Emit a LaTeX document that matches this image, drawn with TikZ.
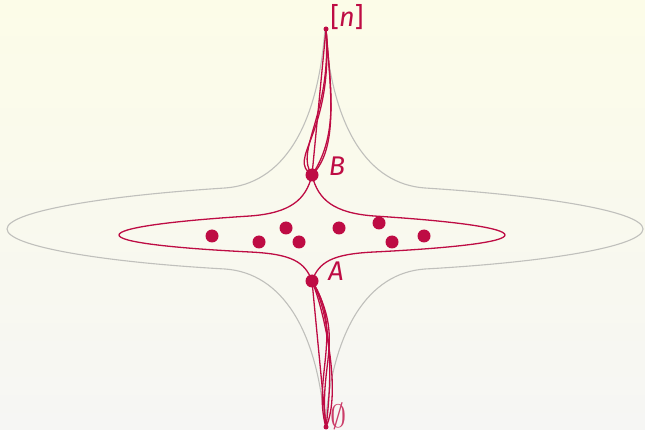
\documentclass[tikz,border=0pt]{standalone}
\usepackage{fontspec}
\setsansfont{Fira Sans}
\definecolor{rd}{RGB}{190,12,68}
\definecolor{gr}{RGB}{192,192,188}
\definecolor{bgtop}{RGB}{252,252,232}
\definecolor{bgbot}{RGB}{246,246,244}
\tikzset{
  gline/.style={draw=gr, line width=1.1pt},
  rline/.style={draw=rd, line width=1.3pt},
  bigdot/.style={circle, fill=rd, inner sep=0pt, minimum size=13pt},
  tipdot/.style={circle, fill=rd, inner sep=0pt, minimum size=5pt},
  lbl/.style={text=rd, inner sep=0pt, font=\fontsize{27}{31}\selectfont\sffamily\itshape}
}
\begin{document}
\begin{tikzpicture}[x=1pt,y=-1pt]
\shade[top color=bgtop,bottom color=bgbot] (0,0) rectangle (645,430);
\useasboundingbox (0,0) rectangle (645,430);
% gray outer shape
\path[gline] (325,28) .. controls (318,128) and (282,184) .. (225,188)
  .. controls (100,196) and (7,212) .. (7,229)
  .. controls (7,246) and (100,262) .. (225,269)
  .. controls (282,273) and (318,330) .. (325,428)
  .. controls (332,330) and (368,273) .. (425,269)
  .. controls (550,262) and (643,246) .. (643,229)
  .. controls (643,212) and (550,196) .. (425,188)
  .. controls (368,184) and (332,128) .. (325,28) -- cycle;
% key points
\coordinate (N) at (326,29);
\coordinate (B) at (312,175);
\coordinate (A) at (312,281);
\coordinate (Z) at (326,427);
% red inner shape
\path[rline] (B) .. controls (306,200) and (290,213) .. (250,216)
  .. controls (170,221) and (119,228) .. (119,235)
  .. controls (119,242) and (170,248) .. (250,252)
  .. controls (292,254) and (305,262) .. (A)
  .. controls (319,262) and (332,254) .. (374,252)
  .. controls (454,248) and (505,242) .. (505,235)
  .. controls (505,228) and (454,221) .. (374,216)
  .. controls (334,213) and (318,200) .. (B) -- cycle;
% strands N -- B
\draw[rline] (N) -- (B);
\draw[rline] (N) .. controls (334,135) and (286,158) .. (B);
\draw[rline] (N) .. controls (332,115) and (294,150) .. (B);
\draw[rline] (N) .. controls (332,100) and (337,150) .. (B);
\draw[rline] (N) .. controls (329,80) and (341,132) .. (B);
% strands A -- Z
\draw[rline] (A) -- (Z);
\draw[rline] (A) .. controls (333,320) and (332,380) .. (Z);
\draw[rline] (A) .. controls (344,330) and (312,380) .. (Z);
\draw[rline] (A) .. controls (324,310) and (342,392) .. (Z);
\draw[rline] (A) .. controls (346,340) and (318,362) .. (Z);
% dots
\node[bigdot] (dB) at (B) {};
\node[bigdot] (dA) at (A) {};
\node[tipdot] (dN) at (N) {};
\node[tipdot] (dZ) at (Z) {};
\node[bigdot] (p1) at (212,236) {};
\node[bigdot] (p2) at (259,242) {};
\node[bigdot] (p3) at (286,228) {};
\node[bigdot] (p4) at (299,242) {};
\node[bigdot] (p5) at (339,228) {};
\node[bigdot] (p6) at (379,223) {};
\node[bigdot] (p7) at (392,242) {};
\node[bigdot] (p8) at (424,236) {};
% labels
\node[lbl] (ln) at (347,17) {\upshape[\itshape n\upshape]};
\node[lbl] (lB) at (337,166) {B};
\node[lbl] (lA) at (336,271) {A};
\node[text=rd!80, inner sep=0pt, font=\fontsize{24}{28}\selectfont] (lZ) at (339,416) {\scalebox{1.3}{$\emptyset$}};
\end{tikzpicture}
\end{document}
